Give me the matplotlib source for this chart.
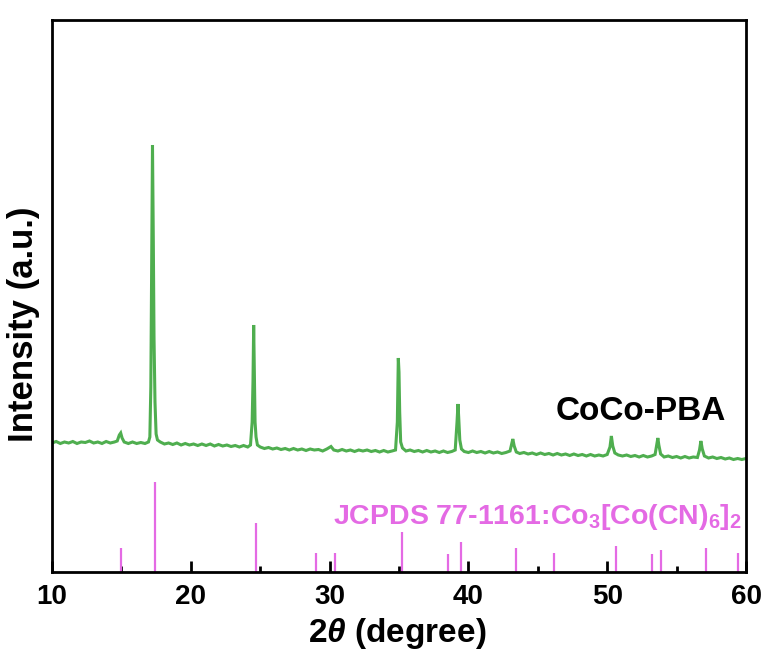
import matplotlib
matplotlib.use("Agg")
import matplotlib.pyplot as plt
from matplotlib.ticker import MultipleLocator

plt.rcParams['font.family'] = ['Liberation Sans', 'DejaVu Sans']
plt.rcParams['font.weight'] = 'bold'
plt.rcParams['mathtext.fontset'] = 'custom'
plt.rcParams['mathtext.rm'] = 'Liberation Sans:bold'
plt.rcParams['mathtext.it'] = 'Liberation Sans:bold:italic'
plt.rcParams['mathtext.bf'] = 'Liberation Sans:bold'
plt.rcParams['mathtext.default'] = 'rm'

# Measured XRD pattern of CoCo-PBA (2theta in degree, intensity in a.u.)
two_theta = [
    10.0, 10.3, 10.6, 10.9, 11.2, 11.5, 11.8, 12.1, 12.4, 12.7, 13.0, 13.3, 13.6, 13.9,
    14.2, 14.5, 14.7, 14.85, 14.95, 15.05, 15.2, 15.5, 15.8, 16.1, 16.4, 16.7, 16.95,
    17.05, 17.12, 17.18, 17.24, 17.30, 17.35, 17.42, 17.5, 17.6, 17.8, 18.1, 18.4, 18.7,
    19.0, 19.3, 19.6, 19.9, 20.2, 20.5, 20.8, 21.1, 21.4, 21.7, 22.0, 22.3, 22.6, 22.9,
    23.2, 23.5, 23.8, 24.1, 24.3, 24.42, 24.48, 24.53, 24.58, 24.63, 24.7, 24.8, 25.0,
    25.3, 25.6, 25.9, 26.2, 26.5, 26.8, 27.1, 27.4, 27.7, 28.0, 28.3, 28.6, 28.9, 29.2,
    29.5, 29.8, 30.1, 30.3, 30.6, 30.9, 31.2, 31.5, 31.8, 32.1, 32.4, 32.7, 33.0, 33.3,
    33.6, 33.9, 34.2, 34.5, 34.75, 34.88, 34.95, 35.0, 35.05, 35.12, 35.25, 35.5, 35.8,
    36.1, 36.4, 36.7, 37.0, 37.3, 37.6, 37.9, 38.2, 38.5, 38.8, 39.05, 39.18, 39.25,
    39.3, 39.38, 39.5, 39.7, 40.0, 40.3, 40.6, 40.9, 41.2, 41.5, 41.8, 42.1, 42.4, 42.7,
    43.0, 43.12, 43.2, 43.3, 43.45, 43.7, 44.0, 44.3, 44.6, 44.9, 45.2, 45.5, 45.8, 46.1,
    46.4, 46.7, 47.0, 47.3, 47.6, 47.9, 48.2, 48.5, 48.8, 49.1, 49.4, 49.7, 50.0, 50.2,
    50.3, 50.4, 50.55, 50.8, 51.1, 51.4, 51.7, 52.0, 52.3, 52.6, 52.9, 53.2, 53.45,
    53.58, 53.65, 53.72, 53.85, 54.1, 54.4, 54.7, 55.0, 55.3, 55.6, 55.9, 56.2, 56.5,
    56.65, 56.75, 56.85, 57.0, 57.3, 57.6, 57.9, 58.2, 58.5, 58.8, 59.1, 59.4, 59.7, 60.0,
]
intensity = [
    129, 130.5, 128.5, 130, 129, 130.5, 128.5, 130, 129.5, 131, 129, 130, 128.5, 130.5,
    129, 130, 131, 137, 139, 134, 130, 128.5, 130, 128.5, 129.5, 128.5, 130,
    135, 185, 300, 427, 330, 234, 170, 138, 132, 130, 128, 129, 127.5,
    129, 127, 128.5, 127, 128, 126.5, 128, 126.5, 128, 126, 127.5, 126, 127, 125.5,
    126.5, 125, 126.5, 125, 127, 150, 190, 247, 200, 150, 135, 127, 125,
    123.5, 124.5, 123, 124, 122.5, 123.5, 122, 123.5, 122, 123, 121.5, 123, 122, 122.5,
    121, 123, 125.5, 122, 121, 122.5, 121, 122, 120.5, 122, 121, 122, 120.5, 121.5,
    120, 121.5, 120, 121, 122, 150, 214, 200, 160, 130, 124, 121, 122,
    120.5, 121.5, 120, 121.5, 120, 121, 119.5, 121, 119.5, 120.5, 122, 150, 168,
    155, 132, 123, 120.5, 119.5, 121, 119.5, 120.5, 119, 120.5, 119, 120, 118.5, 119.5,
    121, 128, 133, 126, 120, 118.5, 119.5, 118, 119, 117.5, 119, 117.5, 118.5, 117,
    118.5, 117, 118, 116.5, 118, 116.5, 117.5, 116, 117.5, 116, 117, 116, 117.5, 125,
    136, 126, 119, 117, 116, 117, 115.5, 116.5, 115, 116.5, 115, 116, 117.5,
    128, 134, 127, 118, 115, 116, 114.5, 115.5, 114, 115.5, 114, 115, 114.5,
    122, 131, 123, 116, 114, 115, 113.5, 114.5, 113, 114, 112.5, 113.5, 112.5, 113.5,
]

# Reference pattern JCPDS 77-1161 (relative intensities)
ref_pos = [15.0, 17.4, 24.7, 29.0, 30.4, 35.2, 38.5, 39.5, 43.4, 46.2, 50.6, 53.2, 53.9, 57.1, 59.4]
ref_int = [27, 100, 54, 21, 21, 44, 20, 33, 27, 21, 29, 20, 25, 27, 21]

sample_label = "CoCo-PBA"
ref_label = "JCPDS 77-1161:Co$_3$[Co(CN)$_6$]$_2$"
x_ticks = [10, 20, 30, 40, 50, 60]

green = '#4FAE4F'
magenta = '#E46AE4'

fig = plt.figure(figsize=(7.70, 6.56), dpi=100)
ax = fig.add_axes([52/770, 1 - 572/656, (746 - 52)/770, (572 - 20)/656])

ax.plot(two_theta, intensity, color=green, lw=2.2, solid_joinstyle='miter')
ax.vlines(ref_pos, 0, [v * 0.9 for v in ref_int], color=magenta, lw=1.6)

ax.text(52.4, 161, sample_label, ha='center', va='center', fontsize=24, fontweight='bold', color='black')
ax.text(59.7, 55, ref_label, ha='right', va='center', fontsize=20.5, fontweight='bold', color=magenta)

ax.set_xlim(10, 60)
ax.set_ylim(0, 552)
ax.set_xticks(x_ticks)
ax.xaxis.set_minor_locator(MultipleLocator(5))
ax.set_yticks([])
ax.tick_params(axis='x', which='major', direction='in', length=8, width=2, labelsize=20, pad=9)
ax.tick_params(axis='x', which='minor', direction='in', length=4, width=2)
for lbl in ax.get_xticklabels():
    lbl.set_fontweight('bold')
for s in ax.spines.values():
    s.set_linewidth(2)

ax.set_xlabel(r'2$\mathit{\theta}$ (degree)', fontsize=24, fontweight='bold')
ax.xaxis.set_label_coords(0.497, -0.08)
ax.set_ylabel('Intensity (a.u.)', fontsize=25, fontweight='bold')
ax.yaxis.set_label_coords(-0.018, 0.449)

fig.savefig('out.png', dpi=100)
